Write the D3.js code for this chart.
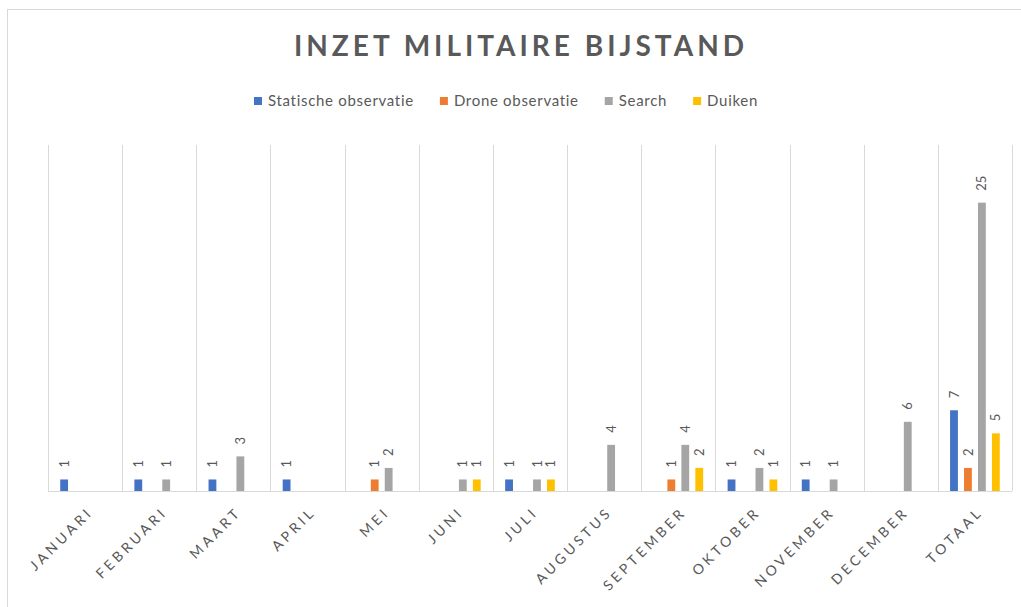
<!DOCTYPE html>
<html>
<head>
<meta charset="utf-8">
<script src="https://cdn.jsdelivr.net/npm/d3@7"></script>
<style>
  body { margin: 0; background: #fff; }
  text { font-family: Lato, "Open Sans", sans-serif; fill: #595959; }
</style>
</head>
<body>
<svg id="chart" width="1021" height="607"></svg>
<script>
// data
const months = ['Januari', 'Februari', 'Maart', 'April', 'Mei', 'Juni', 'Juli', 'Augustus', 'September', 'Oktober', 'November', 'December', 'Totaal']
const seriesNames = ['Statische observatie', 'Drone observatie', 'Search', 'Duiken']
const statische = [1, 1, 1, 1, 0, 0, 1, 0, 0, 1, 1, 0, 7]
const drone     = [0, 0, 0, 0, 1, 0, 0, 0, 1, 0, 0, 0, 2]
const search    = [0, 1, 3, 0, 2, 1, 1, 4, 4, 2, 1, 6, 25]
const duiken    = [0, 0, 0, 0, 0, 1, 1, 0, 2, 1, 0, 0, 5]
const colors = ['#4472C4', '#ED7D31', '#A5A5A5', '#FFC000']

const values = [statische, drone, search, duiken]
const svg = d3.select('#chart')

// chart border (only left and top visible in the shot)
svg.append('rect')
    .attr('x', 7.5).attr('y', 9.5)
    .attr('width', 1100).attr('height', 700)
    .attr('fill', '#fff').attr('stroke', '#d9d9d9')

const plotTop = 145, plotBottom = 491
const x0 = d3.scaleBand().domain(months).range([48, 1012])
const bw = x0.bandwidth()
const x1 = d3.scaleBand().domain(seriesNames)
    .range([bw * 0.165, bw * 0.835]).paddingInner(0.44)
const y = d3.scaleLinear().domain([0, 30]).range([plotBottom, plotTop])

// vertical gridlines between categories
const edges = months.map(m => x0(m)).concat([x0.range()[1]])
svg.append('g').selectAll('line')
    .data(edges)
    .join('line')
    .attr('x1', d => Math.round(d) + 0.5).attr('x2', d => Math.round(d) + 0.5)
    .attr('y1', plotTop).attr('y2', plotBottom)
    .attr('stroke', '#d9d9d9')

// bars
const groups = svg.append('g').selectAll('g')
    .data(months)
    .join('g')
    .attr('transform', d => `translate(${x0(d)},0)`)

const cells = groups.selectAll('g')
    .data((m, i) => seriesNames.map((s, k) => ({ s: s, v: values[k][i], c: colors[k] })))
    .join('g')

cells.filter(d => d.v > 0).append('rect')
    .attr('x', d => x1(d.s))
    .attr('width', x1.bandwidth())
    .attr('y', d => y(d.v))
    .attr('height', d => plotBottom - y(d.v))
    .attr('fill', d => d.c)

cells.filter(d => d.v > 0).append('text')
    .attr('transform', d => `translate(${x1(d.s) + x1.bandwidth() / 2},${y(d.v) - 12}) rotate(-90)`)
    .attr('dy', '0.35em')
    .attr('font-size', 13)
    .text(d => d.v)

// baseline
svg.append('line')
    .attr('x1', x0.range()[0]).attr('x2', x0.range()[1])
    .attr('y1', plotBottom + 0.5).attr('y2', plotBottom + 0.5)
    .attr('stroke', '#d9d9d9')

// category labels
svg.append('g').selectAll('text')
    .data(months)
    .join('text')
    .attr('transform', d => `translate(${x0(d) + bw / 2 + 9},${plotBottom + 22}) rotate(-45)`)
    .attr('text-anchor', 'end')
    .attr('font-size', 14)
    .attr('letter-spacing', 3.5)
    .text(d => d.toUpperCase())

// title
svg.append('text')
    .attr('x', 521).attr('y', 56)
    .attr('text-anchor', 'middle')
    .attr('font-size', 28)
    .attr('font-weight', 'bold')
    .attr('letter-spacing', 4)
    .text('INZET MILITAIRE BIJSTAND')

// legend
const legend = svg.append('g')
let lx = 0
seriesNames.forEach((s, k) => {
    const g = legend.append('g').attr('transform', `translate(${lx},0)`)
    g.append('rect').attr('x', 0).attr('y', -4).attr('width', 8).attr('height', 8).attr('fill', colors[k])
    const t = g.append('text').attr('x', 14).attr('dy', '0.35em')
        .attr('font-size', 15).attr('letter-spacing', 0.7).text(s)
    lx += 14 + t.node().getComputedTextLength() + 26
})
const legendWidth = lx - 26
legend.attr('transform', `translate(${506 - legendWidth / 2},101)`)
</script>
</body>
</html>
